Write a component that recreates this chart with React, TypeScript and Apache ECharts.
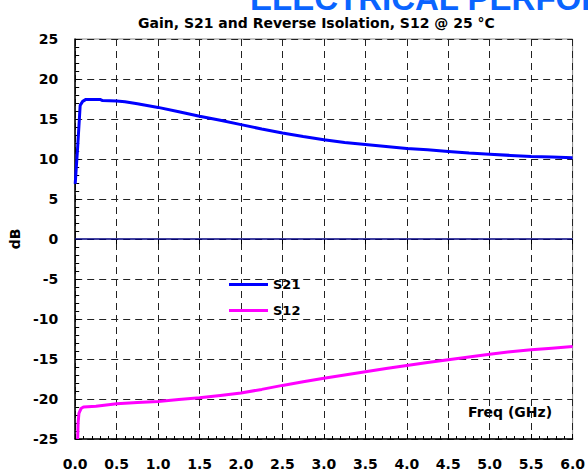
import React, { useEffect, useRef } from "react";
import * as echarts from "echarts";

const FONT = "'DejaVu Sans', 'Liberation Sans', Arial, sans-serif";
const BANNER_FONT = "'Liberation Sans', Arial, sans-serif";

const titleText = "Gain, S21 and Reverse Isolation, S12 @ 25 °C";
const bannerText = "ELECTRICAL PERFORMANCE";
const xName = "Freq (GHz)";
const yName = "dB";

const s21Freq = [0, 0.03, 0.06, 0.09, 0.13, 0.3, 0.33, 0.5, 0.6, 0.75, 1.0, 1.25, 1.5, 1.75, 2.0, 2.25, 2.5, 2.75, 3.0, 3.25, 3.5, 3.75, 4.0, 4.25, 4.5, 4.75, 5.0, 5.25, 5.5, 5.75, 6.0];
const s21Gain = [6.9, 11.5, 16.7, 17.2, 17.45, 17.45, 17.3, 17.25, 17.15, 16.9, 16.45, 15.9, 15.35, 14.85, 14.3, 13.75, 13.25, 12.8, 12.4, 12.05, 11.8, 11.55, 11.3, 11.15, 10.95, 10.75, 10.6, 10.45, 10.3, 10.25, 10.15];

const s12Freq = [0.03, 0.035, 0.045, 0.07, 0.1, 0.25, 0.5, 0.75, 1.0, 1.25, 1.5, 1.75, 2.0, 2.25, 2.5, 2.75, 3.0, 3.25, 3.5, 3.75, 4.0, 4.25, 4.5, 4.75, 5.0, 5.25, 5.5, 5.75, 6.0];
const s12Iso = [-25, -23, -21.8, -21.2, -21.0, -20.9, -20.6, -20.45, -20.3, -20.05, -19.85, -19.55, -19.25, -18.8, -18.3, -17.85, -17.4, -17.0, -16.6, -16.2, -15.8, -15.45, -15.1, -14.75, -14.4, -14.1, -13.85, -13.65, -13.45];

const zeroFreq = [0, 6];
const zeroLevel = [0, 0];

const xMin = 0, xMax = 6, xStep = 0.5;
const yMin = -25, yMax = 25, yStep = 5;

const pairs = (xs: number[], ys: number[]) => xs.map((x, i) => [x, ys[i]]);

export default function App() {
  const ref = useRef<HTMLDivElement>(null);
  useEffect(() => {
    document.body.style.margin = "0";
    const chart = echarts.init(ref.current!, null, { renderer: "svg" });
    const grid = { left: 72, top: 39, right: 14, bottom: 32 };
    const split = { show: true, lineStyle: { color: "#222", width: 1, type: [7, 5] as any } };
    chart.setOption({
      animation: false,
      backgroundColor: "#fff",
      textStyle: { fontFamily: FONT },
      title: {
        text: titleText,
        left: 133,
        top: 11,
        textStyle: { fontFamily: FONT, fontSize: 14, fontWeight: "bold", color: "#000" },
      },
      grid: { ...grid, show: true, borderColor: "#888", borderWidth: 1 },
      legend: {
        data: ["S21", "S12"],
        orient: "vertical",
        left: 229,
        top: 278,
        padding: 0,
        icon: "rect",
        itemWidth: 39,
        itemHeight: 3,
        itemGap: 13,
        textStyle: { fontFamily: FONT, fontSize: 13, fontWeight: "bold", color: "#000" },
      },
      xAxis: [
        {
          type: "value",
          min: xMin,
          max: xMax,
          interval: xStep,
          position: "bottom",
          axisLine: { show: true, onZero: false, lineStyle: { color: "#000", width: 1.5 } },
          axisTick: { show: true, inside: true, length: 5, lineStyle: { color: "#000" } },
          minorTick: { show: true, splitNumber: 5, length: 3, lineStyle: { color: "#000" } },
          axisLabel: {
            margin: 18,
            fontFamily: FONT,
            fontSize: 14,
            fontWeight: "bold",
            color: "#000",
            formatter: (v: number) => v.toFixed(1),
          },
          splitLine: split,
        },
        {
          type: "value",
          min: xMin,
          max: xMax,
          interval: xStep,
          position: "top",
          axisLine: { show: false },
          axisTick: { show: true, inside: true, length: 5, lineStyle: { color: "#000" } },
          axisLabel: { show: false },
          splitLine: { show: false },
        },
      ],
      yAxis: {
        type: "value",
        min: yMin,
        max: yMax,
        interval: yStep,
        name: yName,
        nameLocation: "middle",
        nameRotate: 90,
        nameGap: 52,
        nameTextStyle: { fontFamily: FONT, fontSize: 14, fontWeight: "bold", color: "#000" },
        axisLine: { show: true, onZero: false, lineStyle: { color: "#000", width: 1.5 } },
        axisTick: { show: true, inside: true, length: 5, lineStyle: { color: "#000" } },
        minorTick: { show: true, splitNumber: 5, length: 4, lineStyle: { color: "#000" } },
        axisLabel: { margin: 17, fontFamily: FONT, fontSize: 14, fontWeight: "bold", color: "#000" },
        splitLine: split,
      },
      graphic: [
        {
          type: "text",
          left: 250,
          top: -18,
          silent: true,
          style: { text: bannerText, fill: "#0a64ff", font: `bold 33px ${BANNER_FONT}` },
        },
        {
          type: "text",
          left: 468,
          top: 405,
          silent: true,
          style: { text: xName, fill: "#000", font: `bold 14px ${FONT}` },
        },
      ],
      series: [
        {
          name: "zero",
          type: "line",
          data: pairs(zeroFreq, zeroLevel),
          showSymbol: false,
          lineStyle: { color: "#000080", width: 1.5 },
          itemStyle: { color: "#000080" },
          silent: true,
          z: 1,
        },
        {
          name: "S21",
          type: "line",
          data: pairs(s21Freq, s21Gain),
          showSymbol: false,
          lineStyle: { color: "#0000ff", width: 3 },
          itemStyle: { color: "#0000ff" },
          z: 3,
        },
        {
          name: "S12",
          type: "line",
          data: pairs(s12Freq, s12Iso),
          showSymbol: false,
          lineStyle: { color: "#ff00ff", width: 3 },
          itemStyle: { color: "#ff00ff" },
          z: 3,
        },
      ],
    });
    return () => chart.dispose();
  }, []);
  return <div ref={ref} style={{ position: "fixed", left: 0, top: 0, width: 588, height: 471 }} />;
}
